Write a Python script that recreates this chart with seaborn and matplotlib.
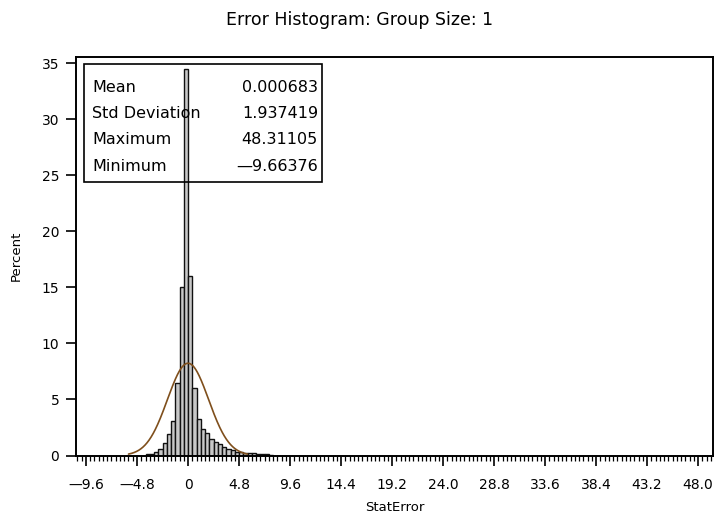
import numpy as np
import pandas as pd
import seaborn as sns
import matplotlib
matplotlib.use("Agg")
import matplotlib.pyplot as plt
from matplotlib.patches import Rectangle
from matplotlib.ticker import FixedLocator

# ---------------- data ----------------
bin_left = [-4.0, -3.6, -3.2, -2.8, -2.4, -2.0, -1.6, -1.2, -0.8, -0.4,
            0.0, 0.4, 0.8, 1.2, 1.6, 2.0, 2.4, 2.8, 3.2, 3.6,
            4.0, 4.4, 4.8, 5.2, 5.6, 6.0, 6.4, 6.8, 7.2, 7.6]
percent = [0.10, 0.15, 0.30, 0.60, 1.10, 1.90, 3.10, 6.50, 15.0, 34.5,
           16.0, 6.00, 3.30, 2.40, 2.00, 1.50, 1.20, 1.00, 0.80, 0.60,
           0.45, 0.35, 0.30, 0.25, 0.20, 0.18, 0.15, 0.12, 0.10, 0.05]
BIN_WIDTH = 0.4

stat_names = ["Mean", "Std Deviation", "Maximum", "Minimum"]
stat_values = ["0.000683", "1.937419", "48.31105", "\u20149.66376"]
mean_val = 0.000683
sd_val = 1.937419

x_ticks = [-9.6, -4.8, 0.0, 4.8, 9.6, 14.4, 19.2, 24.0, 28.8, 33.6, 38.4, 43.2, 48.0]
x_tick_labels = ["\u20149.6", "\u20144.8", "0", "4.8", "9.6", "14.4", "19.2",
                 "24.0", "28.8", "33.6", "38.4", "43.2", "48.0"]
y_ticks = [0, 5, 10, 15, 20, 25, 30, 35]

title = "Error Histogram: Group Size: 1"
x_label = "StatError"
y_label = "Percent"

# ---------------- figure ----------------
sns.set_style("white")
plt.rcParams["font.family"] = ["DejaVu Sans"]
plt.rcParams["text.color"] = "black"
plt.rcParams["axes.labelcolor"] = "black"
plt.rcParams["xtick.color"] = "black"
plt.rcParams["ytick.color"] = "black"

W, H = 719, 524
fig = plt.figure(figsize=(W / 100, H / 100), dpi=100)
ax_l, ax_r, ax_t, ax_b = 76, 713, 57, 455.5
ax = fig.add_axes([ax_l / W, (H - ax_b) / H, (ax_r - ax_l) / W, (ax_b - ax_t) / H])

df = pd.DataFrame({"center": np.array(bin_left) + BIN_WIDTH / 2, "pct": percent})
edges = list(bin_left) + [bin_left[-1] + BIN_WIDTH]
sns.histplot(data=df, x="center", weights="pct", bins=edges, stat="count",
             color="#c8c8c8", edgecolor="#111111", linewidth=1.0, alpha=1.0, ax=ax)

xs = np.linspace(-5.6, 5.6, 400)
ys = BIN_WIDTH * 100 * np.exp(-0.5 * ((xs - mean_val) / sd_val) ** 2) / (sd_val * np.sqrt(2 * np.pi))
sns.lineplot(x=xs, y=ys, color="#7f4f1c", linewidth=1.2, ax=ax)

ax.set_xlim(-10.54, 49.4)
ax.set_ylim(0, 35.58)

ax.xaxis.set_major_locator(FixedLocator(x_ticks))
ax.set_xticklabels(x_tick_labels)
minor = np.arange(-10.4, 49.3, BIN_WIDTH)
ax.xaxis.set_minor_locator(FixedLocator(minor))
ax.yaxis.set_major_locator(FixedLocator(y_ticks))
ax.set_yticklabels([str(v) for v in y_ticks])

ax.tick_params(axis="both", which="major", direction="out", length=7, width=1.2,
               labelsize=10, color="black", labelcolor="black", pad=5)
ax.tick_params(axis="x", which="major", pad=9)
ax.tick_params(axis="x", which="minor", direction="out", length=3.5, width=0.9, color="black")
ax.tick_params(bottom=True, left=True, which="both")
ax.tick_params(axis="y", which="minor", left=False)

for s in ax.spines.values():
    s.set_visible(True)
    s.set_color("black")
    s.set_linewidth(1.4)

ax.set_xlabel(x_label, fontsize=9.5, labelpad=7)
ax.set_ylabel(y_label, fontsize=9.5, labelpad=14)
fig.text(0.5, 1 - 20 / H, title, ha="center", va="center", fontsize=12.5)

# stats table box
bx0, bx1 = (84 - ax_l) / (ax_r - ax_l), (322 - ax_l) / (ax_r - ax_l)
by0, by1 = (ax_b - 182) / (ax_b - ax_t), (ax_b - 64) / (ax_b - ax_t)
ax.add_patch(Rectangle((bx0, by0), bx1 - bx0, by1 - by0, transform=ax.transAxes,
                       facecolor="none", edgecolor="black", linewidth=1.2, zorder=5))
row_y = [88, 113.5, 140, 166.5]
for name, val, yy in zip(stat_names, stat_values, row_y):
    yf = (ax_b - yy) / (ax_b - ax_t)
    ax.text((92 - ax_l) / (ax_r - ax_l), yf, name, transform=ax.transAxes,
            ha="left", va="center", fontsize=11.5, zorder=6)
    ax.text((318 - ax_l) / (ax_r - ax_l), yf, val, transform=ax.transAxes,
            ha="right", va="center", fontsize=11.5, zorder=6)

fig.savefig("out.png", dpi=100, facecolor="white")
